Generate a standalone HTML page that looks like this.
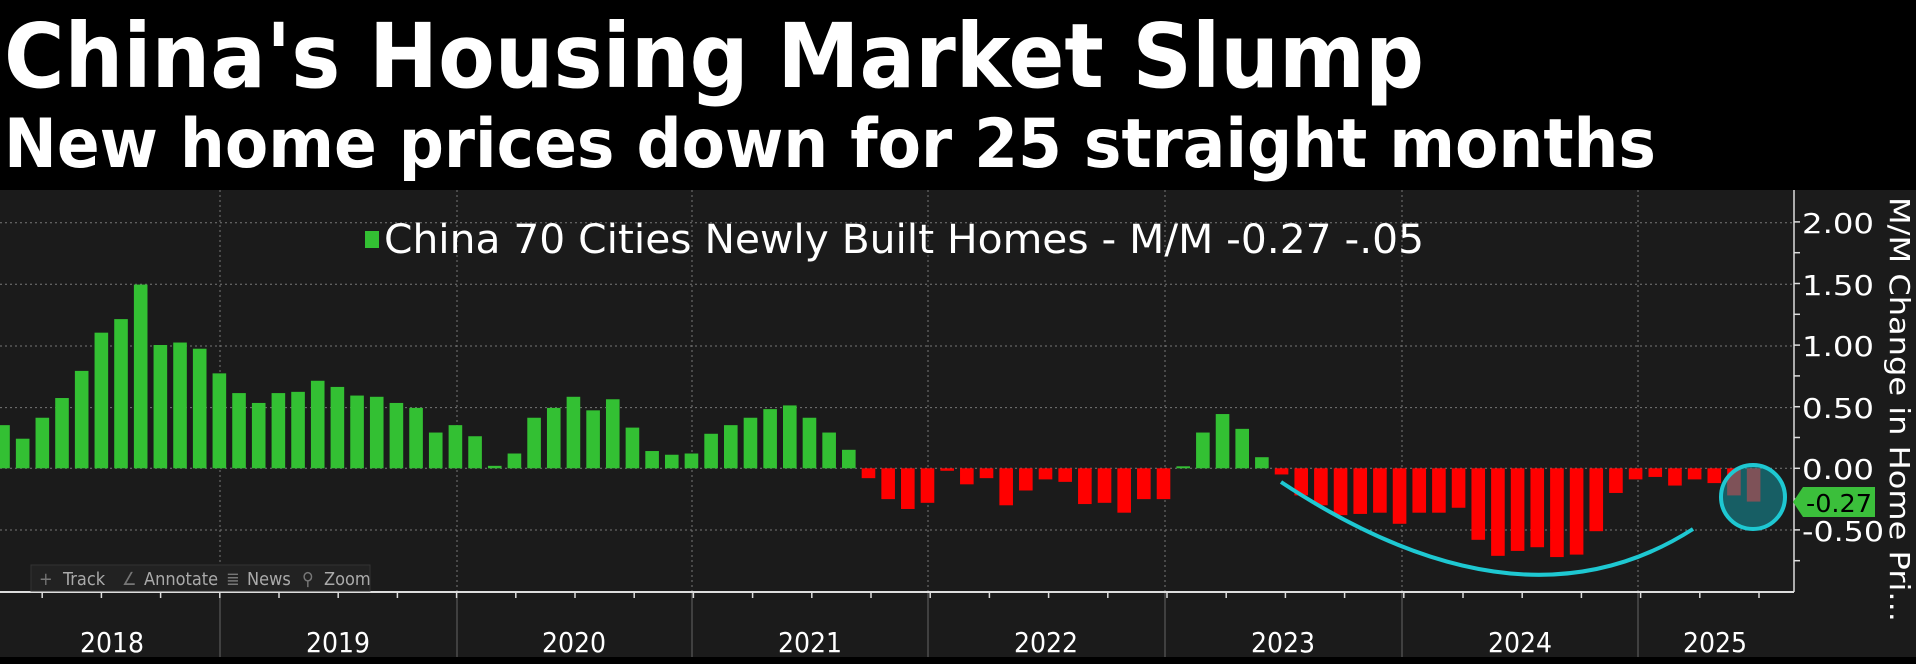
<!DOCTYPE html>
<html><head><meta charset="utf-8"><style>
html,body{margin:0;padding:0;background:#000;}
svg{display:block}
</style></head><body>
<svg id="s" width="1916" height="664" viewBox="0 0 1916 664" xmlns="http://www.w3.org/2000/svg" font-family="'DejaVu Sans', 'Liberation Sans', sans-serif">
<rect x="0" y="0" width="1916" height="664" fill="#000"/>
<rect x="0" y="190" width="1916" height="467" fill="#1b1b1b"/>
<text x="4" y="87" fill="#fff" font-weight="bold" font-size="89" textLength="1420" lengthAdjust="spacingAndGlyphs">China's Housing Market Slump</text>
<text x="4" y="167" fill="#fff" font-weight="bold" font-size="68" textLength="1652" lengthAdjust="spacingAndGlyphs">New home prices down for 25 straight months</text>
<g id="grid" stroke="#777" stroke-width="1" stroke-dasharray="2,3"></g>
<g id="bars"></g>
<line x1="0" y1="592" x2="1794" y2="592" stroke="#ddd" stroke-width="2"/>
<line x1="1794" y1="190" x2="1794" y2="592" stroke="#ddd" stroke-width="1.5"/>
<g id="ticks" stroke="#ddd" stroke-width="1.5"></g>
<g fill="#fff" font-family="'DejaVu Sans Condensed','Liberation Sans Narrow','Liberation Sans',sans-serif" font-size="28">
<text x="1802" y="233" textLength="72" lengthAdjust="spacingAndGlyphs">2.00</text>
<text x="1802" y="295" textLength="72" lengthAdjust="spacingAndGlyphs">1.50</text>
<text x="1802" y="356" textLength="72" lengthAdjust="spacingAndGlyphs">1.00</text>
<text x="1802" y="418" textLength="72" lengthAdjust="spacingAndGlyphs">0.50</text>
<text x="1802" y="479" textLength="72" lengthAdjust="spacingAndGlyphs">0.00</text>
<text x="1802" y="541" textLength="82" lengthAdjust="spacingAndGlyphs">-0.50</text>
</g>
<text transform="translate(1890,197) rotate(90)" fill="#fff" font-size="28" textLength="425" lengthAdjust="spacingAndGlyphs">M/M Change in Home Pri...</text>
<g fill="#fff" font-size="28" font-family="'DejaVu Sans Condensed','Liberation Sans',sans-serif" text-anchor="middle">
<text x="112" y="652">2018</text><text x="338" y="652">2019</text><text x="574" y="652">2020</text><text x="810" y="652">2021</text>
<text x="1046" y="652">2022</text><text x="1283" y="652">2023</text><text x="1520" y="652">2024</text><text x="1715" y="652">2025</text>
</g>
<rect x="365" y="231" width="14" height="17" fill="#33c033"/>
<text x="384" y="253" fill="#fff" font-size="40" font-family="'DejaVu Sans Condensed','Liberation Sans',sans-serif" textLength="1040" lengthAdjust="spacingAndGlyphs">China 70 Cities Newly Built Homes - M/M -0.27 -.05</text>
<rect x="31" y="565" width="339" height="26" fill="#222" stroke="#333"/>
<g fill="#aaa" font-size="18" font-family="'DejaVu Sans Condensed','Liberation Sans',sans-serif">
<text x="63" y="585">Track</text><text x="144" y="585">Annotate</text><text x="247" y="585">News</text><text x="324" y="585">Zoom</text>
<text x="39" y="585" fill="#777">+</text><text x="122" y="585" fill="#777">∠</text><text x="226" y="585" fill="#777">≣</text><text x="302" y="585" fill="#777">⚲</text>
</g>
<path d="M1281,482 Q1520,640 1693,529" fill="none" stroke="#1ec8d2" stroke-width="4"/>
<ellipse cx="1753" cy="497" rx="32" ry="32" fill="rgba(20,150,160,0.55)" stroke="#1ec8d2" stroke-width="4"/>
<path d="M1793,502 L1803,487 L1875,487 L1875,517 L1803,517 Z" fill="#3bbf3b"/>
<text x="1806" y="512" fill="#000" font-size="25" font-family="'DejaVu Sans Condensed','Liberation Sans',sans-serif" textLength="66" lengthAdjust="spacingAndGlyphs">-0.27</text>
</svg>
<script>
var ns="http://www.w3.org/2000/svg";
function el(p,t,a){var e=document.createElementNS(ns,t);for(var k in a)e.setAttribute(k,a[k]);p.appendChild(e);return e;}
var g=document.getElementById('grid');
[222.7,284.3,346,407.6,468.3,530].forEach(function(y){el(g,'line',{x1:0,y1:y,x2:1794,y2:y});});
[220,457,692,928,1165,1402,1638].forEach(function(x){el(g,'line',{x1:x,y1:190,x2:x,y2:592});el(g,'line',{x1:x,y1:592,x2:x,y2:657,'stroke-dasharray':'none',stroke:'#666'});});
var t=document.getElementById('ticks');
for(var x=220-237;x<1794;x+=59.2){el(t,'line',{x1:x,y1:592,x2:x,y2:598});}
for(var k=-3;k<=9;k++){var y=468.3-k*30.8;if(y>192&&y<590)el(t,'line',{x1:1794,y1:y,x2:1800,y2:y});}
var v=[0.35,0.24,0.41,0.57,0.79,1.10,1.21,1.49,1.00,1.02,0.97,0.77,0.61,0.53,0.61,0.62,0.71,0.66,0.59,0.58,0.53,0.49,0.29,0.35,0.26,0.02,0.12,0.41,0.49,0.58,0.47,0.56,0.33,0.14,0.11,0.12,0.28,0.35,0.41,0.48,0.51,0.41,0.29,0.15,-0.08,-0.25,-0.33,-0.28,-0.02,
-0.13,-0.08,-0.30,-0.18,-0.09,-0.11,-0.29,-0.28,-0.36,-0.25,-0.25,0.01,0.29,0.44,0.32,0.09,-0.05,-0.22,-0.30,-0.38,-0.37,-0.36,-0.45,-0.36,-0.36,-0.32,-0.58,-0.71,-0.67,-0.64,-0.72,-0.70,-0.51,-0.20,-0.09,-0.07,-0.14,-0.09,-0.12,-0.22,-0.27];
var b=document.getElementById('bars');
var z=468.3,s=123.3;
v.forEach(function(val,i){var cx=3+i*19.67;var h=Math.abs(val)*s;if(h<2)h=2;
el(b,'rect',{x:cx-6.8,y:val>=0?z-h:z,width:13.6,height:h,fill:val>=0?'#33c033':'#f00'});});
</script>
</body></html>
